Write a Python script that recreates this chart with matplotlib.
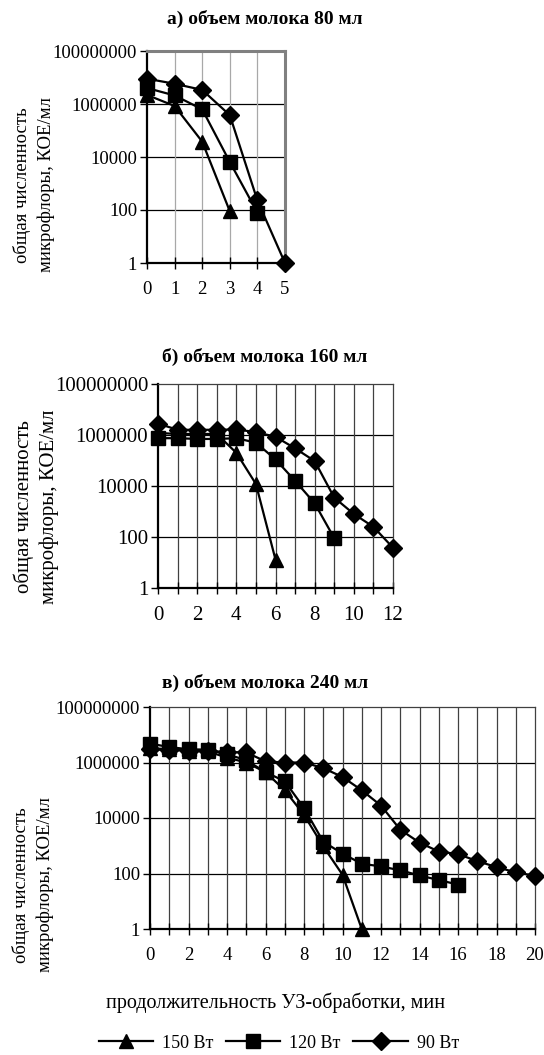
import matplotlib
matplotlib.use("Agg")
import matplotlib.pyplot as plt
from matplotlib.ticker import FixedLocator, NullLocator, FuncFormatter
from matplotlib.lines import Line2D

plt.rcParams['font.family'] = ['Liberation Serif', 'DejaVu Serif']

# ---------------- data ----------------
# panel a) 80 ml
a_x150 = [0, 1, 2, 3]
a_y150 = [2.2e6, 8.4e5, 3.8e4, 90]
a_x120 = [0, 1, 2, 3, 4]
a_y120 = [4.0e6, 2.1e6, 6.3e5, 6.5e3, 80]
a_x90 = [0, 1, 2, 3, 4, 5]
a_y90 = [9.0e6, 5.8e6, 3.4e6, 3.8e5, 230, 1]

# panel b) 160 ml
b_x150 = [0, 1, 2, 3, 4, 5, 6]
b_y150 = [1.2e6, 1.1e6, 1.1e6, 1.1e6, 2.0e5, 1.2e4, 13]
b_x120 = [0, 1, 2, 3, 4, 5, 6, 7, 8, 9]
b_y120 = [7.5e5, 7.5e5, 7.0e5, 7.0e5, 7.5e5, 5.0e5, 1.1e5, 1.6e4, 2.1e3, 90]
b_x90 = [0, 1, 2, 3, 4, 5, 6, 7, 8, 9, 10, 11, 12]
b_y90 = [2.8e6, 1.6e6, 1.6e6, 1.6e6, 1.65e6, 1.3e6, 8.5e5, 3.0e5, 9.5e4, 3.5e3, 800, 250, 38]

# panel c) 240 ml
c_x150 = [0, 1, 2, 3, 4, 5, 6, 7, 8, 9, 10, 11]
c_y150 = [3.3e6, 3.0e6, 2.6e6, 2.5e6, 1.5e6, 1.0e6, 4.5e5, 1.0e5, 1.3e4, 950, 90, 1]
c_x120 = [0, 1, 2, 3, 4, 5, 6, 7, 8, 9, 10, 11, 12, 13, 14, 15, 16]
c_y120 = [4.8e6, 3.6e6, 3.0e6, 2.9e6, 2.0e6, 1.2e6, 4.5e5, 2.1e5, 2.3e4, 1.4e3, 520, 225, 180, 130, 85, 58, 40]
c_x90 = [0, 1, 2, 3, 4, 5, 6, 7, 8, 9, 10, 11, 12, 13, 14, 15, 16, 17, 18, 19, 20]
c_y90 = [3.0e6, 2.8e6, 2.7e6, 2.6e6, 2.4e6, 2.3e6, 1.1e6, 1.0e6, 1.0e6, 6.3e5, 3.0e5, 1.0e5,
         2.8e4, 3.8e3, 1.3e3, 620, 500, 280, 170, 110, 83]

titles = ["а) объем молока 80 мл", "б) объем молока 160 мл", "в) объем молока 240 мл"]
series_labels = ["150 Вт", "120 Вт", "90 Вт"]
ylabel = "общая численность\nмикрофлоры, КОЕ/мл"
xlabel = "продолжительность УЗ-обработки, мин"
ytick_vals = [1, 100, 10000, 1000000, 100000000]

W, H = 544, 1055
fig = plt.figure(figsize=(W / 100, H / 100), dpi=100)


def add_ax(l, r, t, b):
    return fig.add_axes([l / W, 1 - b / H, (r - l) / W, (b - t) / H])


panels = [
    dict(box=(147, 285, 51, 263), xmax=5, lblstep=1, fs=13.5, ylfs=13.5, ylx=34, lsp=1.55,
         data=[(a_x150, a_y150), (a_x120, a_y120), (a_x90, a_y90)],
         vgrid='#a8a8a8', frame='#808080', title_y=19, ylab_y=185),
    dict(box=(158, 393, 384, 588), xmax=12, lblstep=2, fs=15, ylfs=15, ylx=36, lsp=1.4,
         data=[(b_x150, b_y150), (b_x120, b_y120), (b_x90, b_y90)],
         vgrid='#404040', frame='#404040', title_y=357, ylab_y=507),
    dict(box=(150, 535, 707, 929), xmax=20, lblstep=2, fs=13.5, ylfs=13.5, ylx=33, lsp=1.55,
         data=[(c_x150, c_y150), (c_x120, c_y120), (c_x90, c_y90)],
         vgrid='#404040', frame='#404040', title_y=683, ylab_y=885),
]

markers = ['^', 's', 'D']
msizes = [10.5, 10, 9]

for i, p in enumerate(panels):
    l, r, t, b = p['box']
    ax = add_ax(l, r, t, b)
    ax.set_yscale('log')
    ax.set_ylim(1, 1e8)
    ax.set_xlim(0, p['xmax'])
    ax.yaxis.set_major_locator(FixedLocator(ytick_vals))
    ax.yaxis.set_minor_locator(NullLocator())
    ax.yaxis.set_major_formatter(FuncFormatter(lambda v, pos: f"{int(round(v))}"))
    ax.xaxis.set_major_locator(FixedLocator(list(range(0, p['xmax'] + 1, p['lblstep']))))
    ax.xaxis.set_minor_locator(FixedLocator(list(range(0, p['xmax'] + 1))))
    for v in ytick_vals[1:4]:
        ax.axhline(v, color='black', lw=0.9, zorder=1)
    for xv in range(1, p['xmax']):
        ax.axvline(xv, color=p['vgrid'], lw=0.9, zorder=1)
    for (xs, ys), m, ms in zip(p['data'], markers, msizes):
        ax.plot(xs, ys, color='black', lw=1.6, marker=m, ms=ms,
                markerfacecolor='black', markeredgecolor='black', zorder=3, clip_on=False)
    ax.tick_params(axis='both', which='both', colors='black', labelsize=p['fs'], width=1.0)
    ax.tick_params(axis='y', direction='out', length=5, pad=2)
    ax.tick_params(axis='x', which='both', direction='inout', length=8, pad=9)
    ax.spines['left'].set_linewidth(1.6)
    ax.spines['bottom'].set_linewidth(1.6)
    ax.spines['top'].set_color(p['frame'])
    ax.spines['right'].set_color(p['frame'])
    ax.spines['top'].set_linewidth(2.2 if i == 0 else 0.9)
    ax.spines['right'].set_linewidth(2.2 if i == 0 else 0.9)
    fig.text(265 / W, 1 - p['title_y'] / H, titles[i], ha='center', va='center',
             fontsize=14, fontweight='bold')
    fig.text(p['ylx'] / W, 1 - p['ylab_y'] / H, ylabel, ha='center', va='center',
             rotation=90, fontsize=p['ylfs'], linespacing=p['lsp'])

fig.text(276 / W, 1 - 1003 / H, xlabel, ha='center', va='center', fontsize=14.5)

handles = [Line2D([], [], color='black', lw=1.6, marker=m, ms=ms, markerfacecolor='black')
           for m, ms in zip(markers, msizes)]
fig.legend(handles, series_labels, loc='center', bbox_to_anchor=(279 / W, 1 - 1043 / H),
           ncol=3, frameon=False, fontsize=13, handlelength=3.0, handletextpad=0.5,
           columnspacing=0.7, borderaxespad=0)

fig.savefig('out.png', dpi=100)
